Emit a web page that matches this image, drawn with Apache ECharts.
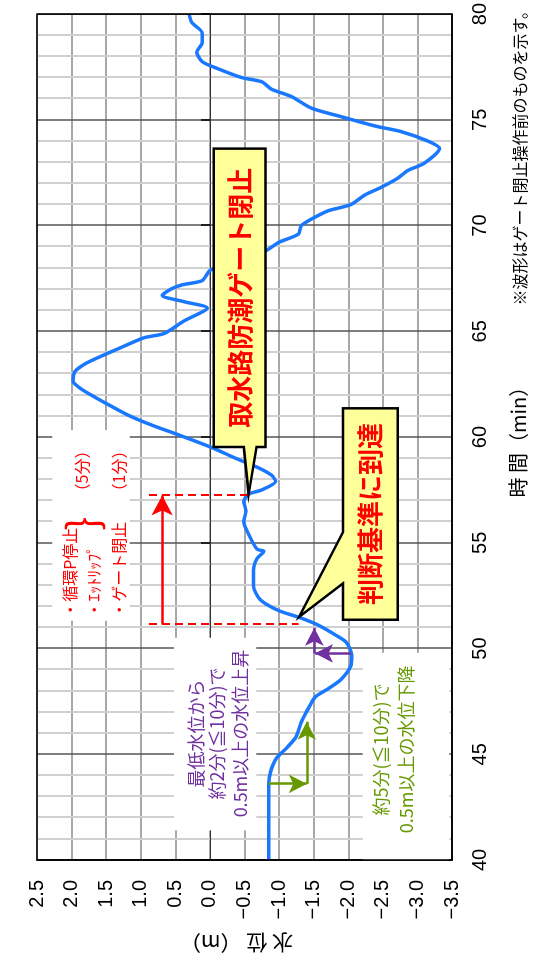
<!DOCTYPE html>
<html><head><meta charset="utf-8">
<script src="https://cdn.jsdelivr.net/npm/echarts/dist/echarts.min.js"></script>
<style>
html,body{margin:0;padding:0;background:#fff;width:533px;height:978px;overflow:hidden}
#c{position:absolute;left:0;top:0;width:978px;height:533px;transform-origin:0 0;transform:translate(0px,978px) rotate(-90deg);background:#fff}
</style></head><body><div id="c"></div>
<script>
// ---- data (time in min, water level in m) ----
const timeMin = [40, 43.6, 44.2, 44.8, 45.3, 45.8, 46.5, 47.15, 47.7, 48.1, 48.55, 49.2, 49.7, 50.3, 50.65, 51.1, 51.45, 51.8, 52.3, 52.95, 53.7, 54.25, 54.6, 54.7, 55.4, 56.0, 56.5, 56.95, 57.3, 57.5, 57.9, 58.2, 58.55, 59.0, 59.5, 60.1, 60.55, 61.0, 61.5, 61.9, 62.25, 62.65, 63.1, 63.45, 63.8, 64.3, 64.7, 64.9, 65.5, 66.1, 66.4, 66.7, 67.0, 67.2, 67.4, 67.9, 68.8, 69.2, 69.6, 70.0, 70.4, 70.7, 71.0, 71.45, 71.8, 72.25, 72.6, 72.95, 73.65, 74.0, 74.45, 74.7, 75.15, 75.55, 76.1, 76.45, 76.8, 77.0, 77.4, 77.75, 78.2, 78.65, 79.1, 79.6, 80.0];
const waterLevel = [-0.85, -0.85, -0.88, -0.96, -1.11, -1.24, -1.32, -1.42, -1.52, -1.71, -1.90, -2.04, -2.05, -1.97, -1.81, -1.57, -1.31, -0.99, -0.73, -0.63, -0.63, -0.68, -0.78, -0.68, -0.56, -0.49, -0.52, -0.49, -0.56, -0.75, -0.95, -0.89, -0.70, -0.37, -0.03, 0.45, 0.83, 1.16, 1.45, 1.67, 1.85, 1.98, 1.95, 1.81, 1.59, 1.24, 0.95, 0.66, 0.37, 0.04, 0.37, 0.69, 0.56, 0.40, 0.11, -0.01, -0.80, -0.99, -1.28, -1.32, -1.52, -1.71, -2.04, -2.24, -2.47, -2.72, -2.86, -3.10, -3.32, -3.15, -2.76, -2.40, -1.90, -1.47, -1.18, -0.89, -0.75, -0.46, -0.13, 0.11, 0.19, 0.11, 0.11, 0.26, 0.30];
const timeRange = [40, 80];
const timeStep = 5;
const levelRange = [-3.5, 2.5];
const levelStep = 0.5;

// annotation events (data coordinates)
const gateCloseTime = 57.24;     // 取水路防潮ゲート閉止
const criterionTime = 51.14;     // 判断基準に到達
const texts = {
  xName: '時 間（min）',
  yName: '水 位 （m）',
  note: '※波形はゲート閉止操作前のものを示す。',
  call1: '取水路防潮ゲート閉止',
  call2: '判断基準に到達',
  redRows: ['・循環P停止', '・ｴｯﾄﾘｯﾌﾟ', '・ゲート閉止'],
  red5: '（5分）', red1: '（1分）',
  purple: ['最低水位から', '約2分(≦10分)で', '0.5m以上の水位上昇'],
  green: ['約5分(≦10分)で', '0.5m以上の水位下降']
};

const FONT = '"Liberation Sans", "Noto Sans CJK JP", sans-serif';
const JP = '"Noto Sans CJK JP", sans-serif';

const chart = echarts.init(document.getElementById('c'), null, {renderer: 'canvas', width: 978, height: 533});
const series = timeMin.map((t, i) => [t, waterLevel[i]]);

const fmtLevel = v => (v < 0 ? '\u2212' : '') + Math.abs(v).toFixed(1);

const red = '#FF0000', purple = '#7030A0', green = '#669900';
function arrow(a, b, color, w, size) {
  return [
    {coord: a, symbol: 'none', lineStyle: {color: color, width: w, type: 'solid'}},
    {coord: b, symbol: 'arrow', symbolSize: size, itemStyle: {color: color}}
  ];
}
function dashed(a, b) {
  return [
    {coord: a, symbol: 'none', lineStyle: {color: red, width: 2, type: [8, 5]}},
    {coord: b, symbol: 'none'}
  ];
}

const option = {
  animation: false,
  backgroundColor: '#fff',
  grid: {left: 118, right: 4, top: 37, bottom: 78, containLabel: false},
  xAxis: [{
    type: 'value', min: timeRange[0], max: timeRange[1], interval: timeStep,
    position: 'bottom',
    axisLine: {show: true, onZero: false, lineStyle: {color: '#000', width: 1.5}},
    axisTick: {show: false},
    axisLabel: {fontSize: 20, color: '#000', margin: 18, fontFamily: FONT},
    splitLine: {show: true, lineStyle: {color: '#555', width: 1.5}},
    minorTick: {show: false, splitNumber: 5},
    minorSplitLine: {show: true, lineStyle: {color: '#d0d0d0', width: 2}},
    name: texts.xName, nameLocation: 'middle', nameGap: 56,
    nameTextStyle: {fontSize: 20, color: '#000', fontFamily: JP}
  }, {
    type: 'value', min: timeRange[0], max: timeRange[1], interval: timeStep,
    position: 'bottom',
    axisLine: {show: true, onZero: true, lineStyle: {color: '#333', width: 1}},
    axisTick: {show: true, inside: true, length: 9, lineStyle: {color: '#000', width: 1.5}},
    axisLabel: {show: false},
    splitLine: {show: false}
  }],
  yAxis: {
    type: 'value', min: levelRange[0], max: levelRange[1], interval: levelStep,
    axisLine: {show: true, lineStyle: {color: '#000', width: 1.5}},
    axisTick: {show: false},
    axisLabel: {fontSize: 20, color: '#000', margin: 20, fontFamily: FONT, formatter: fmtLevel},
    splitLine: {show: true, lineStyle: {color: '#8a8a8a', width: 1.5}},
    name: texts.yName, nameLocation: 'middle', nameGap: 72, nameRotate: 90,
    nameTextStyle: {fontSize: 21, color: '#000', fontFamily: JP, padding: [0, 0, 0, 16]}
  },
  series: [{
    type: 'line', data: series, xAxisIndex: 0, yAxisIndex: 0,
    showSymbol: false, symbol: 'none', smooth: 0.25,
    lineStyle: {color: '#1A78FF', width: 3.5},
    z: 3,
    markLine: {
      silent: true, animation: false, label: {show: false},
      data: [
        dashed([gateCloseTime, 0.88], [gateCloseTime, -0.56]),
        dashed([criterionTime, 0.88], [criterionTime, -1.28]),
        arrow([criterionTime, 0.69], [gateCloseTime, 0.69], red, 2.5, [16, 20]),
        arrow([49.77, -1.51], [50.98, -1.51], purple, 2.5, [14, 18]),
        arrow([49.77, -2.04], [49.77, -1.52], purple, 2.5, [14, 18]),
        arrow([43.6, -0.85], [43.6, -1.40], green, 2.5, [14, 18]),
        arrow([43.6, -1.40], [46.54, -1.40], green, 2.5, [14, 18])
      ]
    }
  }]
};
chart.setOption(option);

// ---- annotations positioned through the axes ----
const P = (t, L) => chart.convertToPixel({xAxisIndex: 0, yAxisIndex: 0}, [t, L]);
function rectFrom(t0, t1, L0, L1, style, z) {
  const a = P(t0, L0), b = P(t1, L1);
  return {type: 'rect', z: z, silent: true,
    shape: {x: Math.min(a[0], b[0]), y: Math.min(a[1], b[1]), width: Math.abs(b[0] - a[0]), height: Math.abs(b[1] - a[1])},
    style: style};
}
function txt(t, L, text, font, color, align, weight, z) {
  const p = P(t, L);
  return {type: 'text', z: z || 8, silent: true, x: p[0], y: p[1],
    style: {text: text, font: (weight || 'normal') + ' ' + font + 'px ' + JP, fill: color, align: align || 'center', verticalAlign: 'middle'}};
}
const whiteBoxes = [
  [51.31, 60.33, 2.28, 1.16],   // red note area
  [41.4, 50.51, 0.52, -0.67],   // purple note area
  [40.0, 49.8, -2.21, -3.46]    // green note area
];
const g = [];
whiteBoxes.forEach(b => g.push(rectFrom(b[0], b[1], b[2], b[3], {fill: '#fff'}, 1)));

// callout 1 (box with tail toward gate closure point)
(function () {
  const x0 = P(59.53, 0)[0], x1 = P(73.64, 0)[0];
  const y0 = P(0, -0.057)[1], y1 = P(0, -0.805)[1];
  const yb1 = P(0, -0.49)[1], yb2 = P(0, -0.675)[1];
  const tip = P(gateCloseTime + 0.05, -0.56);
  g.push({type: 'polygon', z: 6, silent: true,
    shape: {points: [[x0, y0], [x1, y0], [x1, y1], [x0, y1], [x0, yb2], tip, [x0, yb1]]},
    style: {fill: '#FFFF99', stroke: '#000', lineWidth: 2.5}});
  g.push(txt(66.585, -0.431, texts.call1, 26, red, 'center', 'bold', 7));
})();
// callout 2
(function () {
  const x0 = P(51.36, 0)[0], x1 = P(61.36, 0)[0];
  const y0 = P(0, -1.925)[1], y1 = P(0, -2.716)[1];
  const xa = P(53.08, 0)[0], xb = P(55.51, 0)[0];
  const tip = P(51.5, -1.29);
  g.push({type: 'polygon', z: 6, silent: true,
    shape: {points: [[x0, y0], [xa, y0], tip, [xb, y0], [x1, y0], [x1, y1], [x0, y1]]},
    style: {fill: '#FFFF99', stroke: '#000', lineWidth: 2.5}});
  g.push(txt(56.36, -2.32, texts.call2, 26, red, 'center', 'bold', 7));
})();

// red notes
const redRowLevels = [2.03, 1.67, 1.31];
texts.redRows.forEach((s, i) => g.push(txt(51.45, redRowLevels[i], s, 16, red, 'left')));
g.push(txt(55.9, 1.85, '}', 42, red, 'center'));
g.push(txt(57.05, 1.85, texts.red5, 16, red, 'left'));
g.push(txt(57.05, 1.31, texts.red1, 16, red, 'left'));

// purple notes
const purpleLevels = [0.20, -0.10, -0.43];
texts.purple.forEach((s, i) => g.push(txt(45.98, purpleLevels[i], s, 18, purple, 'center')));
// green notes
const greenLevels = [-2.47, -2.83];
texts.green.forEach((s, i) => g.push(txt(45.23, greenLevels[i], s, 18, green, 'center')));

// plot border
(function () {
  const a = P(timeRange[0], levelRange[1]), b = P(timeRange[1], levelRange[0]);
  g.push({type: 'rect', z: 20, silent: true, shape: {x: a[0], y: a[1], width: b[0] - a[0], height: b[1] - a[1]},
    style: {fill: 'none', stroke: '#000', lineWidth: 1.5}});
})();

// footnote
g.push({type: 'text', z: 10, silent: true, right: 3, top: 512,
  style: {text: texts.note, font: '16px ' + JP, fill: '#000'}});

chart.setOption({graphic: g});
</script></body></html>
